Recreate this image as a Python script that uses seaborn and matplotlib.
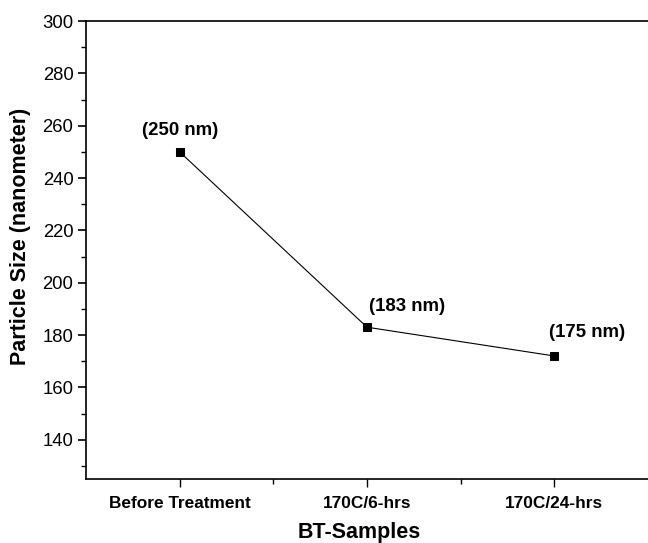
import matplotlib
matplotlib.use("Agg")
import matplotlib.pyplot as plt
import seaborn as sns
import pandas as pd
from matplotlib.ticker import MultipleLocator, FixedLocator

samples = ["Before Treatment", "170C/6-hrs", "170C/24-hrs"]
sizes = [250, 183, 172]
labels = ["(250 nm)", "(183 nm)", "(175 nm)"]

sns.set_theme(style="ticks")
plt.rcParams['font.family'] = ['Liberation Sans', 'DejaVu Sans']
plt.rcParams.update({"text.color": "black", "axes.labelcolor": "black",
                     "xtick.color": "black", "ytick.color": "black",
                     "axes.edgecolor": "black"})

df = pd.DataFrame({"sample": samples, "size": sizes, "pos": range(len(samples))})

fig = plt.figure(figsize=(6.48, 5.43), dpi=100)
ax = fig.add_axes([0.1327, 0.1179, 0.8673, 0.8434])

sns.lineplot(data=df, x="pos", y="size", sort=False, color="black", linewidth=0.8,
             marker="s", markersize=6.3, markeredgecolor="black", markerfacecolor="black",
             ax=ax)

offs = [(0, 9.4), (1.5, 8.6), (-3.6, 10.8)]
has = ["center", "left", "left"]
for i, (v, lab) in enumerate(zip(sizes, labels)):
    ax.annotate(lab, (i, v), xytext=offs[i], textcoords="offset points",
                ha=has[i], va="bottom", fontsize=13.4, fontweight="bold", color="black")

ax.set_xlim(-0.5, 2.5)
ax.set_ylim(125, 300)
ax.xaxis.set_major_locator(FixedLocator([0, 1, 2]))
ax.set_xticklabels(samples, fontsize=12.4, fontweight="bold")
ax.xaxis.set_minor_locator(FixedLocator([0.5, 1.5]))
ax.yaxis.set_major_locator(MultipleLocator(20))
ax.yaxis.set_minor_locator(MultipleLocator(10))
ax.tick_params(axis="y", which="major", labelsize=13.3, length=6, width=1.2, direction="out", color="black", pad=3)
ax.tick_params(axis="x", which="major", length=6, width=1.0, direction="out", color="black", pad=6)
ax.tick_params(which="minor", length=3.5, width=1.0, direction="out", color="black")

for side in ["left", "bottom", "top"]:
    ax.spines[side].set_visible(True)
    ax.spines[side].set_linewidth(1.2)
    ax.spines[side].set_color("black")
ax.spines["right"].set_visible(False)

ax.set_xlabel("BT-Samples", fontsize=15.5, fontweight="bold")
ax.set_ylabel("Particle Size (nanometer)", fontsize=15.5, fontweight="bold")
ax.xaxis.set_label_coords(0.486, -0.095)
ax.yaxis.set_label_coords(-0.097, 0.53)

fig.savefig("out.png", dpi=100)
